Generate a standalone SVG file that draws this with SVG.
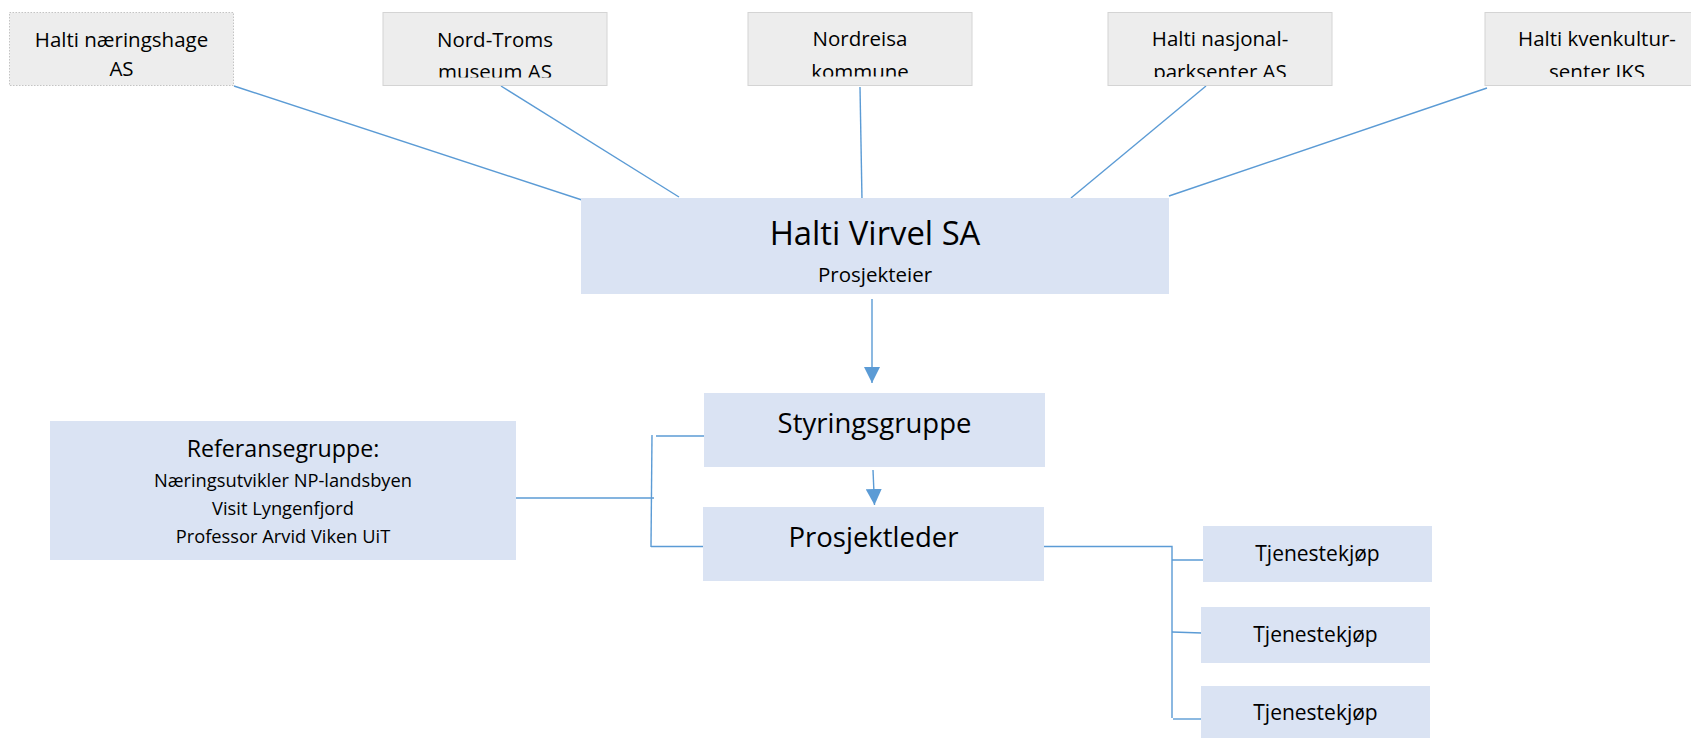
<svg xmlns="http://www.w3.org/2000/svg" width="1691" height="738" viewBox="0 0 1691 738">
<style>
text{font-family:"Open Sans","Noto Sans",sans-serif;fill:#000;text-anchor:middle}
.top{fill:#ededed;stroke:#d4d4d4;stroke-width:1}
.dot{fill:#ededed;stroke:#c4c4c4;stroke-width:1;stroke-dasharray:1.5 1.5}
.blue{fill:#dae3f3}
.t20{font-size:20.5px}
.ln{stroke:#5b9bd5;stroke-width:1.4;fill:none}
</style>
<defs>
<marker id="ah" markerWidth="16" markerHeight="16" refX="16" refY="8" orient="auto" markerUnits="userSpaceOnUse">
<path d="M0,0 L16,8 L0,16 Z" fill="#5b9bd5"/>
</marker>
<clipPath id="c2"><rect x="383" y="12" width="224" height="65.5"/></clipPath>
<clipPath id="c3"><rect x="748" y="12" width="224" height="64.5"/></clipPath>
<clipPath id="c4"><rect x="1108" y="12" width="224" height="65"/></clipPath>
<clipPath id="c5"><rect x="1485" y="12" width="224" height="65"/></clipPath>
</defs>

<g id="connectors">
<line class="ln" x1="234" y1="86" x2="582" y2="200"/>
<line class="ln" x1="501" y1="86" x2="679" y2="197"/>
<line class="ln" x1="860" y1="87" x2="862" y2="200"/>
<line class="ln" x1="1206" y1="86" x2="1071" y2="198"/>
<line class="ln" x1="1487" y1="88" x2="1169" y2="196"/>
<line class="ln" x1="872" y1="299" x2="872" y2="383" marker-end="url(#ah)"/>
<line class="ln" x1="873" y1="470" x2="874.5" y2="505" marker-end="url(#ah)"/>
<polyline class="ln" points="516,498 654,498"/>
<polyline class="ln" points="708,436 656,436"/>
<line class="ln" x1="652" y1="435" x2="651" y2="547"/>
<polyline class="ln" points="651,546.5 704,546.5"/>
<polyline class="ln" points="1044,546.5 1172,546.5 1172,718"/>
<polyline class="ln" points="1172,560 1205,560"/>
<polyline class="ln" points="1172,632 1202,633"/>
<polyline class="ln" points="1173,719 1203,719"/>
</g>

<g id="n-naeringshage">
<rect class="dot" x="9.5" y="12.5" width="224" height="73"/>
<text class="t20" x="121.5" y="46.5">Halti næringshage</text>
<text class="t20" x="121.5" y="76">AS</text>
</g>
<g id="n-nordtroms">
<rect class="top" x="383" y="12.5" width="224" height="73"/>
<text class="t20" x="495" y="46.5">Nord-Troms</text>
<text class="t20" x="495" y="79" clip-path="url(#c2)">museum AS</text>
</g>
<g id="n-nordreisa">
<rect class="top" x="748" y="12.5" width="224" height="73"/>
<text class="t20" x="860" y="46">Nordreisa</text>
<text class="t20" x="860" y="79" clip-path="url(#c3)">kommune</text>
</g>
<g id="n-nasjonalpark">
<rect class="top" x="1108" y="12.5" width="224" height="73"/>
<text class="t20" x="1220" y="46">Halti nasjonal-</text>
<text class="t20" x="1220" y="79" clip-path="url(#c4)">parksenter AS</text>
</g>
<g id="n-kvenkultur">
<rect class="top" x="1485" y="12.5" width="224" height="73"/>
<text class="t20" x="1597" y="46">Halti kvenkultur-</text>
<text class="t20" x="1597" y="79" clip-path="url(#c5)">senter IKS</text>
</g>

<g id="n-haltivirvel">
<rect class="blue" x="581" y="198" width="588" height="96"/>
<text x="875" y="245" style="font-size:32.8px">Halti Virvel SA</text>
<text x="875" y="282" style="font-size:20.5px">Prosjekteier</text>
</g>

<g id="n-styringsgruppe">
<rect class="blue" x="704" y="393" width="341" height="74"/>
<text x="874.5" y="433" style="font-size:27.5px">Styringsgruppe</text>
</g>

<g id="n-prosjektleder">
<rect class="blue" x="703" y="507" width="341" height="74"/>
<text x="873.5" y="547" style="font-size:27.5px">Prosjektleder</text>
</g>

<g id="n-referansegruppe">
<rect class="blue" x="50" y="421" width="466" height="139"/>
<text x="283" y="457" style="font-size:23.2px">Referansegruppe:</text>
<text x="283" y="487" style="font-size:18.3px">Næringsutvikler NP-landsbyen</text>
<text x="283" y="515" style="font-size:18.3px">Visit Lyngenfjord</text>
<text x="283" y="543" style="font-size:18.3px">Professor Arvid Viken UiT</text>
</g>

<g id="n-tjeneste1">
<rect class="blue" x="1203" y="526" width="229" height="56"/>
<text x="1317.5" y="561" style="font-size:21px">Tjenestekjøp</text>
</g>
<g id="n-tjeneste2">
<rect class="blue" x="1201" y="607" width="229" height="56"/>
<text x="1315.5" y="642" style="font-size:21px">Tjenestekjøp</text>
</g>
<g id="n-tjeneste3">
<rect class="blue" x="1201" y="686" width="229" height="52"/>
<text x="1315.5" y="720" style="font-size:21px">Tjenestekjøp</text>
</g>
</svg>
